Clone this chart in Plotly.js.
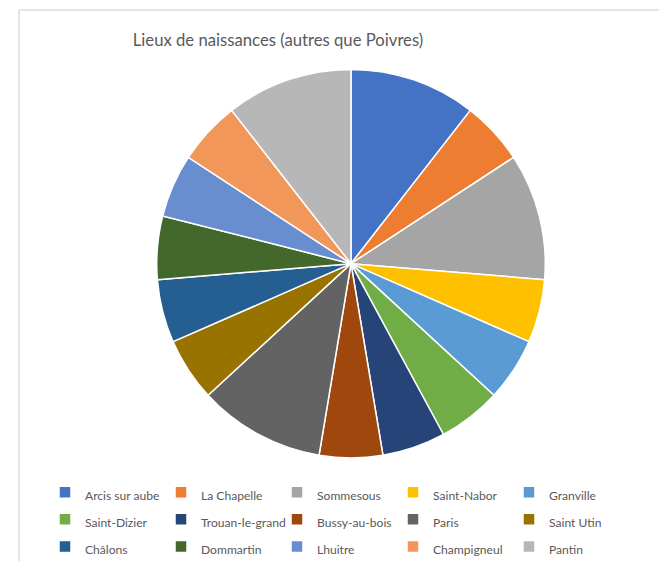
<!DOCTYPE html>
<html>
<head>
<meta charset="utf-8">
<script src="https://cdn.plot.ly/plotly-3.0.1.min.js"></script>
<style>
html,body{margin:0;padding:0;background:#fff;}
#chart{width:659px;height:566px;}
</style>
</head>
<body>
<div id="chart"></div>
<script>
const labels = ["Arcis sur aube","La Chapelle","Sommesous","Saint-Nabor","Granville",
  "Saint-Dizier","Trouan-le-grand","Bussy-au-bois","Paris","Saint Utin",
  "Châlons","Dommartin","Lhuitre","Champigneul","Pantin"];
const values = [2,1,2,1,1,1,1,1,2,1,1,1,1,1,2];
const colors = ["#4472C4","#ED7D31","#A5A5A5","#FFC000","#5B9BD5",
  "#70AD47","#264478","#9E480E","#636363","#997300",
  "#255E91","#43682B","#698ED0","#F1975A","#B7B7B7"];
const titleText = "Lieux de naissances (autres que Poivres)";

const W = 659, H = 566;
const cx = 351, cy = 266, r = 196;

const legendLabels = labels.map(l => '<span style="font-size:12.1px">' + l + '</span>');

const trace = {
  type: "pie",
  labels: legendLabels,
  values: values,
  sort: false,
  direction: "clockwise",
  rotation: 0,
  textinfo: "none",
  hoverinfo: "label+value",
  marker: {colors: colors, line: {color: "#ffffff", width: 1.5}},
  domain: {
    x: [(cx - r) / W, (cx + r) / W],
    y: [(H - cy - r) / H, (H - cy + r) / H]
  }
};

const layout = {
  width: W, height: H,
  margin: {l: 0, r: 0, t: 0, b: 0},
  paper_bgcolor: "#ffffff",
  font: {family: "Lato, 'Open Sans', sans-serif", color: "#595959"},
  title: {
    text: titleText,
    font: {size: 16.7, color: "#595959", family: "Lato, 'Open Sans', sans-serif"},
    x: 278 / W, xanchor: "center", xref: "paper",
    y: 1 - 40 / H, yanchor: "middle", yref: "container"
  },
  showlegend: true,
  legend: {
    orientation: "h",
    x: 45 / W, xanchor: "left",
    y: 1 - 478 / H, yanchor: "top",
    entrywidth: 71, entrywidthmode: "pixels",
    traceorder: "normal",
    font: {size: 18.5, color: "#595959"},
    bgcolor: "rgba(0,0,0,0)"
  },
  shapes: [
    {type: "line", xref: "paper", yref: "paper", x0: 19 / W, x1: 19 / W, y0: 0, y1: 1 - 10 / H,
     line: {color: "#dcdcdc", width: 1.5}},
    {type: "line", xref: "paper", yref: "paper", x0: 19 / W, x1: 1, y0: 1 - 10 / H, y1: 1 - 10 / H,
     line: {color: "#dcdcdc", width: 1.5}}
  ]
};

Plotly.newPlot("chart", [trace], layout, {displayModeBar: false, staticPlot: true});
</script>
</body>
</html>
